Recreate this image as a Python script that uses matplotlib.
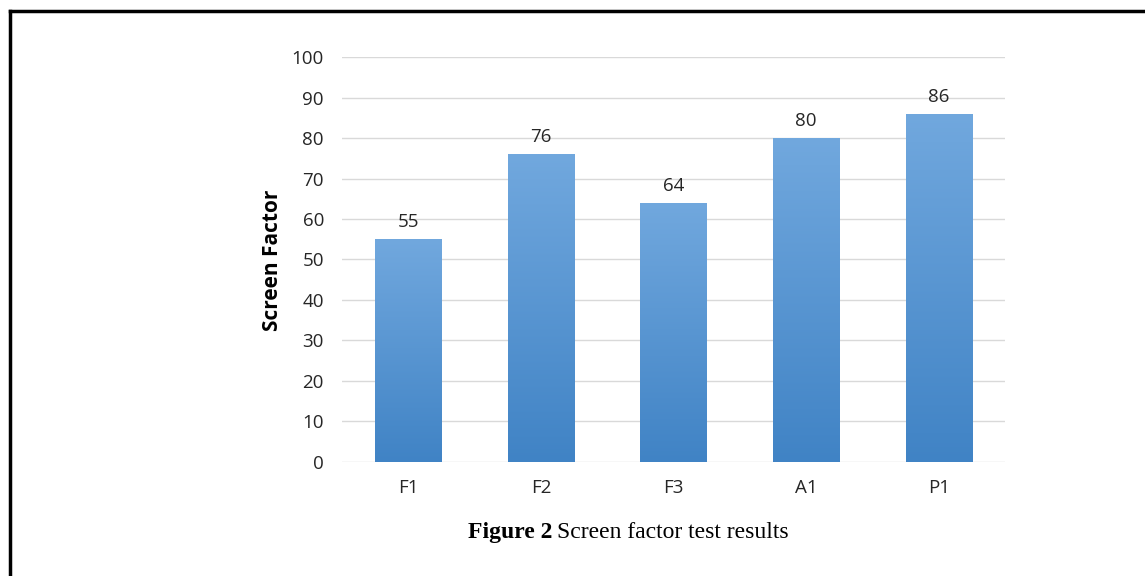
import matplotlib.pyplot as plt
import numpy as np
from matplotlib.lines import Line2D
from matplotlib.colors import LinearSegmentedColormap

categories = ["F1", "F2", "F3", "A1", "P1"]
values = [55, 76, 64, 80, 86]
yticks = [0, 10, 20, 30, 40, 50, 60, 70, 80, 90, 100]

fig = plt.figure(figsize=(11.45, 5.76), dpi=100)
ax = fig.add_axes([0.2987, 0.198, 0.5790, 0.703])

bars = ax.bar(range(len(categories)), values, width=0.5, color="#5b9bd5", zorder=2)

# vertical gradient on each bar, clipped to the bar shape
cmap = LinearSegmentedColormap.from_list("barfill", ["#4083c5", "#71a8de"])
grad = np.linspace(0, 1, 256).reshape(-1, 1)
for b in bars:
    x0, y0 = b.get_x(), b.get_y()
    w, h = b.get_width(), b.get_height()
    im = ax.imshow(grad, cmap=cmap, origin="lower", aspect="auto",
                   extent=[x0, x0 + w, y0, y0 + h], zorder=3)
    im.set_clip_path(b)

for i, v in enumerate(values):
    ax.text(i, v + 2.0, str(v), ha="center", va="bottom", fontsize=13.5,
            color="#262626", family="Open Sans")

ax.set_xlim(-0.5, len(categories) - 0.5)
ax.set_ylim(0, 100)
ax.set_yticks(yticks)
ax.set_xticks(range(len(categories)))
ax.set_xticklabels(categories)
ax.grid(axis="y", color="#d9d9d9", linewidth=1, zorder=0)
ax.set_axisbelow(True)
for s in ax.spines.values():
    s.set_visible(False)
ax.tick_params(axis="both", length=0, labelsize=13.5, colors="#262626")
ax.tick_params(axis="y", pad=13)
ax.tick_params(axis="x", pad=12)
for lab in ax.get_xticklabels() + ax.get_yticklabels():
    lab.set_family("Open Sans")

ax.set_ylabel("Screen Factor", fontsize=15, fontweight="bold", family="Open Sans",
              color="black")
ax.yaxis.set_label_coords(-0.089, 0.499)

# caption: bold part followed by regular part
fig.canvas.draw()
r = fig.canvas.get_renderer()
t1 = fig.text(468 / 1145, 0.075, "Figure 2", ha="left", va="center", fontsize=17,
              fontweight="bold", family="Liberation Serif")
bb = t1.get_window_extent(renderer=r)
fig.text((bb.x1 + 5) / 1145, 0.075, "Screen factor test results", ha="left",
         va="center", fontsize=17, family="Liberation Serif")

# page frame (left and top edges only)
fig.add_artist(Line2D([0.0087, 0.0087], [0.0, 0.981], color="black", linewidth=2.5,
                      transform=fig.transFigure))
fig.add_artist(Line2D([0.0087, 1.0], [0.981, 0.981], color="black", linewidth=2.5,
                      transform=fig.transFigure))

fig.savefig("out.png", dpi=100)
